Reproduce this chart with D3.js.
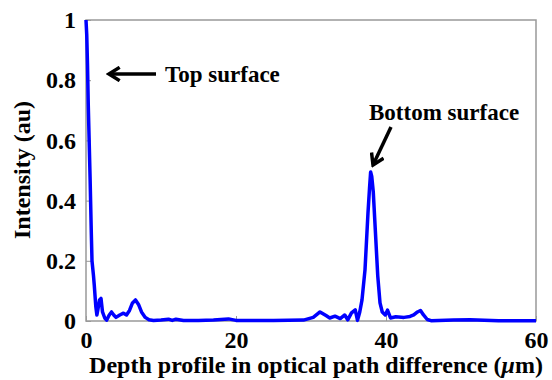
<!DOCTYPE html>
<html>
<head>
<meta charset="utf-8">
<script src="https://cdn.jsdelivr.net/npm/d3@7"></script>
<style>
  body { margin: 0; background: #fff; }
  text { font-family: "Liberation Serif", "Times New Roman", serif; font-weight: bold; }
</style>
</head>
<body>
<div id="chart"></div>
<script>
// optical path difference (um) and intensity
var depth = [0, 0.1, 0.2, 0.3, 0.4, 0.55, 0.7, 0.8, 1.0, 1.1, 1.3, 1.45, 1.6, 1.8, 2.0, 2.2, 2.5, 2.75,
  3.1, 3.4, 3.7, 4.0, 4.5, 5.0, 5.4, 5.8, 6.2, 6.6, 7.0, 7.4, 7.9, 8.4, 9, 10, 11, 11.5, 12, 13, 15,
  17, 19, 20, 25, 29, 30.3, 31.2, 32, 32.5, 33.2, 33.9, 34.5, 34.9, 35.4, 35.9, 36.2, 36.5, 36.8,
  37.2, 37.6, 37.8, 37.95, 38.1, 38.3, 38.6, 38.9, 39.2, 39.5, 39.9, 40.2, 40.6, 41.3, 42.4, 43.2,
  43.7, 44.2, 44.6, 45.0, 45.5, 46, 49, 51.2, 55, 60];
var intensity = [1.0, 0.95, 0.85, 0.72, 0.62, 0.47, 0.3, 0.2, 0.15, 0.12, 0.05, 0.02, 0.04, 0.07, 0.075, 0.03, 0.01, 0.003,
  0.02, 0.03, 0.02, 0.012, 0.02, 0.026, 0.02, 0.035, 0.06, 0.07, 0.055, 0.03, 0.012, 0.004, 0.002, 0.003, 0.006, 0.002, 0.006, 0.002, 0.002,
  0.003, 0.007, 0.002, 0.002, 0.003, 0.012, 0.03, 0.018, 0.01, 0.016, 0.008, 0.02, 0.004, 0.027, 0.037, 0.002, 0.03, 0.07,
  0.17, 0.36, 0.44, 0.495, 0.48, 0.43, 0.29, 0.15, 0.06, 0.03, 0.02, 0.036, 0.01, 0.014, 0.012, 0.015,
  0.02, 0.03, 0.035, 0.02, 0.005, 0.001, 0.003, 0.004, 0.001, 0.001];
var xTicks = [0, 20, 40, 60];
var yTicks = [0, 0.2, 0.4, 0.6, 0.8, 1];

var width = 552, height = 380;
var margin = {top: 20, right: 16, bottom: 59, left: 86};

var svg = d3.select('#chart').append('svg')
    .attr('width', width)
    .attr('height', height);

var x = d3.scaleLinear().domain([0, 60]).range([margin.left, width - margin.right]);
var y = d3.scaleLinear().domain([0, 1]).range([height - margin.bottom, margin.top]);

// box around the plot
svg.append('rect')
    .attr('x', x(0)).attr('y', y(1))
    .attr('width', x(60) - x(0)).attr('height', y(0) - y(1))
    .style('fill', 'none').style('stroke', '#999').style('stroke-width', 1.5);

// inside ticks
var xAxis = svg.append('g')
    .attr('transform', 'translate(0,' + y(0) + ')')
    .call(d3.axisBottom(x).tickValues(xTicks).tickSizeInner(-5).tickSizeOuter(0).tickPadding(10));
var yAxis = svg.append('g')
    .attr('transform', 'translate(' + x(0) + ',0)')
    .call(d3.axisLeft(y).tickValues(yTicks).tickSizeInner(-5).tickSizeOuter(0).tickPadding(10)
        .tickFormat(function(d) { return d === 0 || d === 1 ? d : d3.format('.1f')(d); }));

[xAxis, yAxis].forEach(function(a) {
    a.attr('font-family', null).attr('font-size', null);
    a.select('.domain').remove();
    a.selectAll('line').style('stroke', '#999');
    a.selectAll('text')
        .style('font-family', '"Liberation Serif", serif')
        .style('font-weight', 'bold')
        .style('font-size', '24px')
        .style('fill', '#000');
});
xAxis.selectAll('text').attr('dy', '0.72em');

// curve
var line = d3.line()
    .x(function(d, i) { return x(depth[i]); })
    .y(function(d) { return y(d); });

svg.append('path')
    .datum(intensity)
    .attr('d', line)
    .style('fill', 'none')
    .style('stroke', '#0000ff')
    .style('stroke-width', 3.5)
    .style('stroke-linejoin', 'round');

// axis labels
var xl = svg.append('text')
    .attr('x', 316).attr('y', 373)
    .attr('text-anchor', 'middle')
    .style('font-size', '24px');
xl.append('tspan').text('Depth profile in optical path difference (');
xl.append('tspan').style('font-style', 'italic').text('μ');
xl.append('tspan').text('m)');

svg.append('text')
    .attr('transform', 'translate(30,170) rotate(-90)')
    .attr('text-anchor', 'middle')
    .style('font-size', '24px')
    .text('Intensity (au)');

// annotations
svg.append('defs').append('marker')
    .attr('id', 'head')
    .attr('viewBox', '0 0 12 12')
    .attr('refX', 10).attr('refY', 6)
    .attr('markerUnits', 'userSpaceOnUse')
    .attr('markerWidth', 16).attr('markerHeight', 16)
    .attr('orient', 'auto')
    .append('path')
    .attr('d', 'M2,1 L10,6 L2,11')
    .style('fill', 'none').style('stroke', '#000').style('stroke-width', 2.6)
    .style('stroke-linejoin', 'miter');

svg.append('line')
    .attr('x1', 156).attr('y1', 74).attr('x2', 109).attr('y2', 74)
    .style('stroke', '#000').style('stroke-width', 3.5)
    .attr('marker-end', 'url(#head)');
svg.append('text')
    .attr('x', 165).attr('y', 82)
    .style('font-size', '23px')
    .text('Top surface');

svg.append('line')
    .attr('x1', 391).attr('y1', 127).attr('x2', 373).attr('y2', 165)
    .style('stroke', '#000').style('stroke-width', 3.5)
    .attr('marker-end', 'url(#head)');
svg.append('text')
    .attr('x', 369).attr('y', 120)
    .style('font-size', '23px')
    .text('Bottom surface');
</script>
</body>
</html>
